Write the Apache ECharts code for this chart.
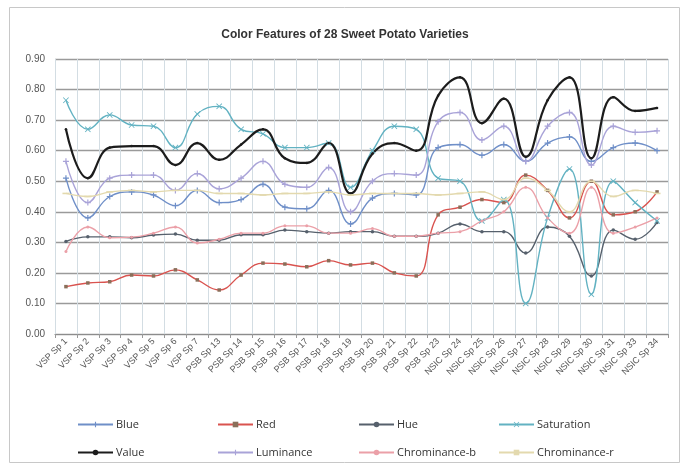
<!DOCTYPE html>
<html>
<head>
<meta charset="utf-8">
<script src="https://cdn.jsdelivr.net/npm/echarts@6/dist/echarts.min.js"></script>
<style>
  html, body { margin: 0; padding: 0; background: #ffffff; }
  #chart { width: 690px; height: 466px; }
</style>
</head>
<body>
<div id="chart"></div>
<script>
// Varieties along the x axis
const categories = [
  'VSP Sp 1', 'VSP Sp 2', 'VSP Sp 3', 'VSP Sp 4', 'VSP Sp 5', 'VSP Sp 6', 'VSP Sp 7',
  'PSB Sp 13', 'PSB Sp 14', 'PSB Sp 15', 'PSB Sp 16', 'PSB Sp 17', 'PSB Sp 18', 'PSB Sp 19',
  'PSB Sp 20', 'PSB Sp 21', 'PSB Sp 22', 'PSB Sp 23',
  'NSIC Sp 24', 'NSIC Sp 25', 'NSIC Sp 26', 'NSIC Sp 27', 'NSIC Sp 28', 'NSIC Sp 29',
  'NSIC Sp 30', 'NSIC Sp 31', 'NSIC Sp 33', 'NSIC Sp 34'
];

// Colour feature values per variety
const blue = [0.51, 0.38, 0.45, 0.465, 0.455, 0.42, 0.47, 0.43, 0.44, 0.49, 0.415, 0.41, 0.47, 0.36,
  0.445, 0.46, 0.455, 0.61, 0.62, 0.585, 0.62, 0.565, 0.625, 0.645, 0.565, 0.61, 0.625, 0.60];
const red = [0.155, 0.167, 0.171, 0.193, 0.19, 0.21, 0.177, 0.144, 0.193, 0.232, 0.229, 0.22, 0.24, 0.226,
  0.232, 0.20, 0.19, 0.39, 0.415, 0.44, 0.43, 0.52, 0.47, 0.38, 0.50, 0.39, 0.40, 0.465];
const hue = [0.303, 0.318, 0.318, 0.315, 0.324, 0.327, 0.307, 0.307, 0.325, 0.325, 0.34, 0.335, 0.33, 0.335,
  0.335, 0.32, 0.32, 0.33, 0.36, 0.335, 0.335, 0.265, 0.35, 0.32, 0.19, 0.34, 0.31, 0.365];
const saturation = [0.765, 0.67, 0.717, 0.684, 0.68, 0.61, 0.72, 0.745, 0.67, 0.655, 0.61, 0.61, 0.625, 0.48,
  0.60, 0.68, 0.67, 0.51, 0.50, 0.37, 0.44, 0.10, 0.38, 0.54, 0.13, 0.50, 0.43, 0.37];
const value = [0.67, 0.51, 0.61, 0.615, 0.615, 0.553, 0.625, 0.57, 0.62, 0.67, 0.575, 0.56, 0.625, 0.46,
  0.59, 0.625, 0.60, 0.78, 0.84, 0.69, 0.77, 0.58, 0.765, 0.84, 0.575, 0.775, 0.73, 0.74];
const luminance = [0.565, 0.43, 0.51, 0.52, 0.52, 0.47, 0.525, 0.475, 0.51, 0.565, 0.49, 0.48, 0.545, 0.40,
  0.50, 0.525, 0.52, 0.695, 0.725, 0.635, 0.68, 0.565, 0.68, 0.725, 0.553, 0.68, 0.66, 0.665];
const chrominanceB = [0.27, 0.35, 0.315, 0.317, 0.33, 0.35, 0.298, 0.31, 0.33, 0.33, 0.354, 0.354, 0.33, 0.33,
  0.345, 0.32, 0.32, 0.33, 0.335, 0.37, 0.40, 0.48, 0.38, 0.33, 0.48, 0.33, 0.35, 0.38];
const chrominanceR = [0.46, 0.45, 0.465, 0.47, 0.465, 0.47, 0.47, 0.46, 0.46, 0.455, 0.46, 0.46, 0.465, 0.455,
  0.46, 0.46, 0.46, 0.455, 0.46, 0.465, 0.44, 0.51, 0.47, 0.40, 0.50, 0.45, 0.47, 0.46];

// Y axis ticks
const yMin = 0, yMax = 0.9, yStep = 0.1;

// Marker shapes
const PLUS = 'path://M4,0H6V4H10V6H6V10H4V6H0V4H4Z';
const CROSS = 'path://M1,0L5,4L9,0L10,1L6,5L10,9L9,10L5,6L1,10L0,9L4,5L0,1Z';

const seriesDefs = [
  { name: 'Blue', data: blue, color: '#6f8fc8', symbol: PLUS, size: 6, width: 1.4 },
  { name: 'Red', data: red, color: '#d9534f', symbol: 'rect', size: 3.5, width: 1.4, markColor: '#8a6f5a' },
  { name: 'Hue', data: hue, color: '#56606c', symbol: 'circle', size: 3.5, width: 1.4 },
  { name: 'Saturation', data: saturation, color: '#62b2c2', symbol: CROSS, size: 6, width: 1.4 },
  { name: 'Value', data: value, color: '#1c1c1c', symbol: 'circle', size: 2.5, width: 2.2 },
  { name: 'Luminance', data: luminance, color: '#a9a3d8', symbol: PLUS, size: 6, width: 1.4 },
  { name: 'Chrominance-b', data: chrominanceB, color: '#eba0a8', symbol: 'circle', size: 3, width: 1.4 },
  { name: 'Chrominance-r', data: chrominanceR, color: '#e3d9ae', symbol: 'rect', size: [7, 1.6], width: 1.4 }
];

const series = seriesDefs.map(d => ({
  name: d.name,
  type: 'line',
  data: d.data,
  smooth: 0.45,
  symbol: d.symbol,
  symbolSize: d.size,
  showSymbol: true,
  lineStyle: { color: d.color, width: d.width },
  itemStyle: { color: d.markColor || d.color, borderWidth: 0 },
  emphasis: { disabled: true },
  animation: false
}));

// Legend: two rows of four fixed columns
const colX = [72, 212, 353, 493];
const rowY = [414, 442];
const legends = seriesDefs.map((d, i) => ({
  data: [d.name],
  left: colX[i % 4],
  top: rowY[Math.floor(i / 4)],
  itemWidth: 35,
  itemHeight: 7,
  itemGap: 0,
  selectedMode: false,
  textStyle: { fontFamily: 'Open Sans, Liberation Sans, sans-serif', fontSize: 11, color: '#333', padding: [0, 0, 0, -2] }
}));

const chart = echarts.init(document.getElementById('chart'), null, { renderer: 'canvas' });
chart.setOption({
  backgroundColor: '#ffffff',
  animation: false,
  title: {
    text: 'Color Features of 28 Sweet Potato Varieties',
    left: 'center',
    top: 24,
    textStyle: { fontFamily: 'Liberation Sans, Arial, sans-serif', fontSize: 12, fontWeight: 'bold', color: '#333' }
  },
  graphic: [{
    type: 'rect',
    shape: { x: 9.5, y: 7.5, width: 670, height: 455 },
    style: { fill: 'none', stroke: '#c8c8c8', lineWidth: 1 },
    silent: true
  }],
  legend: legends,
  grid: { left: 55, right: 22, top: 59, bottom: 132 },
  xAxis: {
    type: 'category',
    data: categories,
    boundaryGap: true,
    axisLine: { lineStyle: { color: '#8c8c8c', width: 1.2 } },
    axisTick: { show: true, length: 4, lineStyle: { color: '#999' } },
    splitLine: { show: true, lineStyle: { color: '#d3dde3', width: 1 } },
    axisLabel: {
      interval: 0,
      rotate: 45,
      margin: 6,
      fontSize: 9,
      fontFamily: 'Liberation Sans, Arial, sans-serif',
      color: '#555'
    }
  },
  yAxis: {
    type: 'value',
    min: yMin,
    max: yMax,
    interval: yStep,
    axisLine: { show: false },
    axisTick: { show: false },
    splitLine: { show: true, lineStyle: { color: '#9a9a9a', width: 1.3 } },
    axisLabel: {
      margin: 10,
      fontSize: 10,
      fontFamily: 'Liberation Sans, Arial, sans-serif',
      color: '#555',
      formatter: v => v.toFixed(2)
    }
  },
  series: series
});
</script>
</body>
</html>
